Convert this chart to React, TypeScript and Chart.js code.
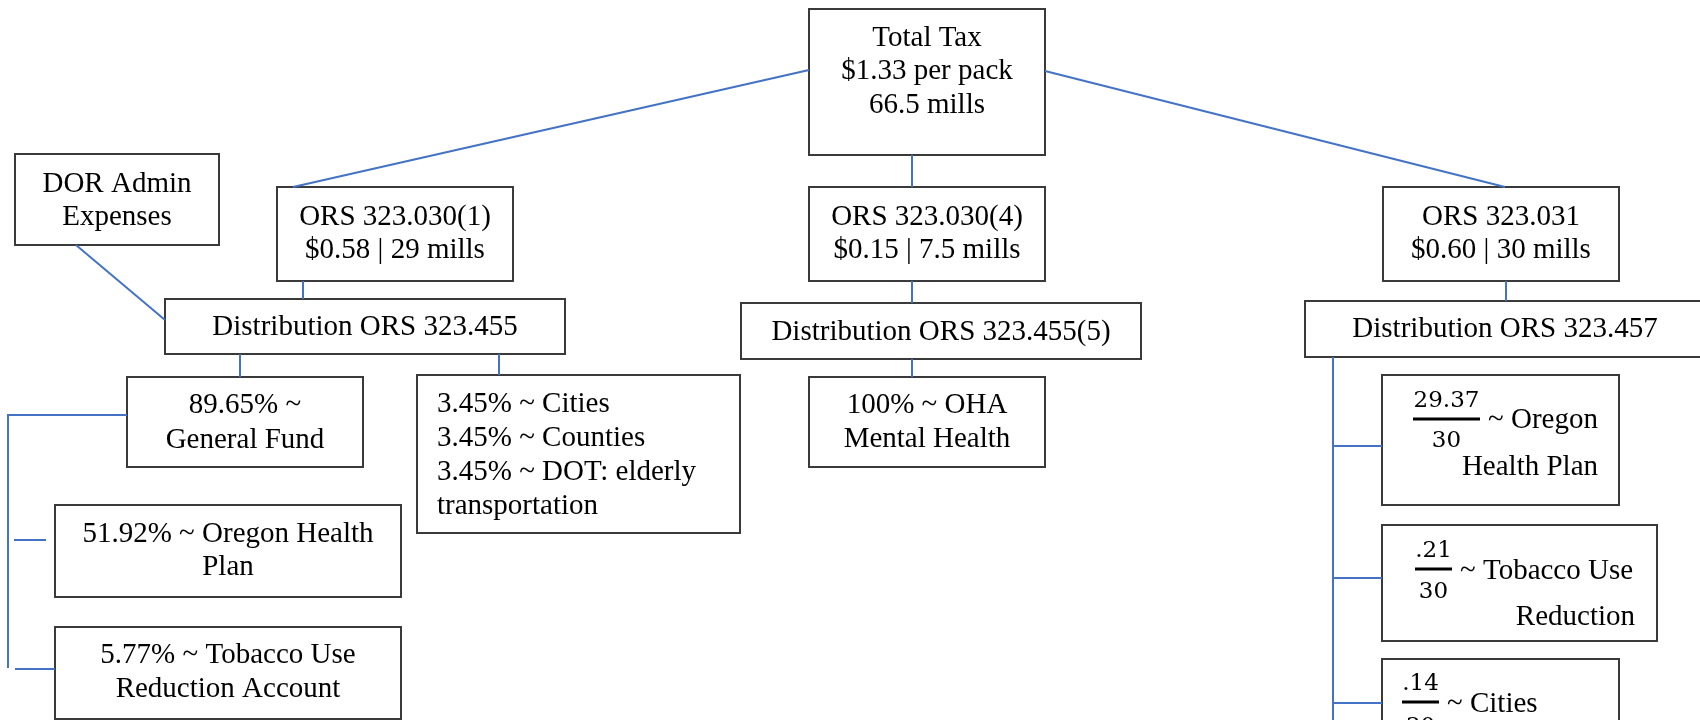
import { useEffect, useRef } from 'react';
import { Chart, registerables } from 'chart.js';

Chart.register(...registerables);

// ---- Diagram content (text) ----
const nodeLines: string[][] = [
  ['Total Tax', '$1.33 per pack', '66.5 mills'],
  ['DOR Admin', 'Expenses'],
  ['ORS 323.030(1)', '$0.58 | 29 mills'],
  ['ORS 323.030(4)', '$0.15 | 7.5 mills'],
  ['ORS 323.031', '$0.60 | 30 mills'],
  ['Distribution ORS 323.455'],
  ['Distribution ORS 323.455(5)'],
  ['Distribution ORS 323.457'],
  ['89.65% ~', 'General Fund'],
  ['3.45% ~ Cities', '3.45% ~ Counties', '3.45% ~ DOT: elderly', 'transportation'],
  ['100% ~ OHA', 'Mental Health'],
  ['51.92% ~ Oregon Health', 'Plan'],
  ['5.77% ~ Tobacco Use', 'Reduction Account'],
];

const fractionNumerators = ['29.37', '.21', '.14'];
const fractionDenominators = ['30', '30', '30'];
const fractionLabels: string[][] = [
  ['~ Oregon', 'Health Plan'],
  ['~ Tobacco Use', 'Reduction'],
  ['~ Cities', ''],
];

// ---- Layout (diagram coordinates, axis units) ----
const nodeBoxes: number[][] = [
  [809, 9, 1045, 155],
  [15, 154, 219, 245],
  [277, 187, 513, 281],
  [809, 187, 1045, 281],
  [1383, 187, 1619, 281],
  [165, 299, 565, 354],
  [741, 303, 1141, 359],
  [1305, 301, 1712, 357],
  [127, 377, 363, 467],
  [417, 375, 740, 533],
  [809, 377, 1045, 467],
  [55, 505, 401, 597],
  [55, 627, 401, 719],
];
const nodeTextX = [927, 117, 395, 927, 1501, 365, 941, 1505, 245, 437, 927, 228, 228];
const nodeAlign = ['center', 'center', 'center', 'center', 'center', 'center', 'center', 'center', 'center', 'left', 'center', 'center', 'center'];
const nodeBaselines: number[][] = [
  [46, 79, 113],
  [192, 225],
  [225, 258],
  [225, 258],
  [225, 258],
  [335],
  [340],
  [337],
  [413, 448],
  [412, 446, 480, 514],
  [413, 447],
  [542, 575],
  [663, 697],
];

const fracBoxes: number[][] = [
  [1382, 375, 1619, 505],
  [1382, 525, 1657, 641],
  [1382, 659, 1619, 748],
];
const fracBars: number[][] = [
  [1413, 1480, 419],
  [1415, 1452, 569],
  [1402, 1439, 702],
];
const fracNumBase = [407, 557, 690];
const fracDenBase = [447, 598, 733];
const fracLabelX = [1488, 1460, 1447];
const fracLabelBase = [428, 579, 712];
const fracLabel2Right = [1598, 1635, 0];
const fracLabel2Base = [475, 625, 0];

const connectors: number[][][] = [
  [[809, 70], [293, 187]],
  [[1045, 71], [1505, 187]],
  [[912, 155], [912, 187]],
  [[303, 281], [303, 299]],
  [[76, 245], [165, 320]],
  [[240, 354], [240, 377]],
  [[499, 354], [499, 375]],
  [[912, 281], [912, 303]],
  [[912, 359], [912, 377]],
  [[1506, 281], [1506, 301]],
  [[127, 415], [8, 415], [8, 668]],
  [[15, 669], [55, 669]],
  [[14, 540], [46, 540]],
  [[1333, 357], [1333, 722]],
  [[1333, 446], [1382, 446]],
  [[1333, 578], [1382, 578]],
  [[1333, 703], [1382, 703]],
];

const LINE_BLUE = '#4472C4';
const BOX_GRAY = '#3a3a3a';
const TEXT_FONT = '29px "Liberation Serif", "Times New Roman", serif';
const FRAC_FONT = '23px "DejaVu Serif", serif';

function rectPoints(b: number[]) {
  const [x0, y0, x1, y1] = b;
  return [
    { x: x0, y: y0 },
    { x: x1, y: y0 },
    { x: x1, y: y1 },
    { x: x0, y: y1 },
    { x: x0, y: y0 },
  ];
}

const textPlugin = {
  id: 'diagramText',
  afterDatasetsDraw(chart: any) {
    const { ctx } = chart;
    const sx = chart.scales.x;
    const sy = chart.scales.y;
    const px = (v: number) => sx.getPixelForValue(v);
    const py = (v: number) => sy.getPixelForValue(v);
    ctx.save();
    ctx.fillStyle = '#000000';
    ctx.textBaseline = 'alphabetic';
    ctx.font = TEXT_FONT;
    nodeLines.forEach((lines, i) => {
      ctx.textAlign = nodeAlign[i] as CanvasTextAlign;
      lines.forEach((t, j) => {
        ctx.fillText(t, px(nodeTextX[i]), py(nodeBaselines[i][j]));
      });
    });
    fractionNumerators.forEach((num, i) => {
      const [bx0, bx1, by] = fracBars[i];
      const cx = (bx0 + bx1) / 2;
      ctx.font = FRAC_FONT;
      ctx.textAlign = 'center';
      ctx.fillText(num, px(cx), py(fracNumBase[i]));
      ctx.fillText(fractionDenominators[i], px(cx), py(fracDenBase[i]));
      ctx.beginPath();
      ctx.strokeStyle = '#000000';
      ctx.lineWidth = 3;
      ctx.moveTo(px(bx0), py(by));
      ctx.lineTo(px(bx1), py(by));
      ctx.stroke();
      ctx.font = TEXT_FONT;
      ctx.textAlign = 'left';
      ctx.fillText(fractionLabels[i][0], px(fracLabelX[i]), py(fracLabelBase[i]));
      if (fractionLabels[i][1]) {
        ctx.textAlign = 'right';
        ctx.fillText(fractionLabels[i][1], px(fracLabel2Right[i]), py(fracLabel2Base[i]));
      }
    });
    ctx.restore();
  },
};

export default function App() {
  const canvasRef = useRef<HTMLCanvasElement | null>(null);

  useEffect(() => {
    const canvas = canvasRef.current;
    if (!canvas) return;
    const datasets: any[] = [];
    connectors.forEach((pts, i) => {
      datasets.push({
        label: 'link' + i,
        data: pts.map(([x, y]) => ({ x, y })),
        showLine: true,
        borderColor: LINE_BLUE,
        borderWidth: 2,
        pointRadius: 0,
        fill: false,
        tension: 0,
        clip: false,
      });
    });
    [...nodeBoxes, ...fracBoxes].forEach((b, i) => {
      datasets.push({
        label: 'box' + i,
        data: rectPoints(b),
        showLine: true,
        borderColor: BOX_GRAY,
        borderWidth: 2,
        borderJoinStyle: 'miter',
        borderCapStyle: 'square',
        pointRadius: 0,
        fill: false,
        tension: 0,
        clip: false,
      });
    });
    const chart = new Chart(canvas, {
      type: 'scatter',
      data: { datasets },
      options: {
        animation: false,
        responsive: false,
        maintainAspectRatio: false,
        layout: { padding: 0 },
        events: [],
        plugins: {
          legend: { display: false },
          tooltip: { enabled: false },
        },
        scales: {
          x: { type: 'linear', min: 0, max: 1700, display: false },
          y: { type: 'linear', min: 0, max: 720, reverse: true, display: false },
        },
      },
      plugins: [textPlugin],
    });
    return () => chart.destroy();
  }, []);

  return (
    <div style={{ position: 'absolute', left: 0, top: 0, width: 1700, height: 720, background: '#ffffff', overflow: 'hidden' }}>
      <canvas ref={canvasRef} width={1700} height={720} style={{ display: 'block' }} />
    </div>
  );
}
